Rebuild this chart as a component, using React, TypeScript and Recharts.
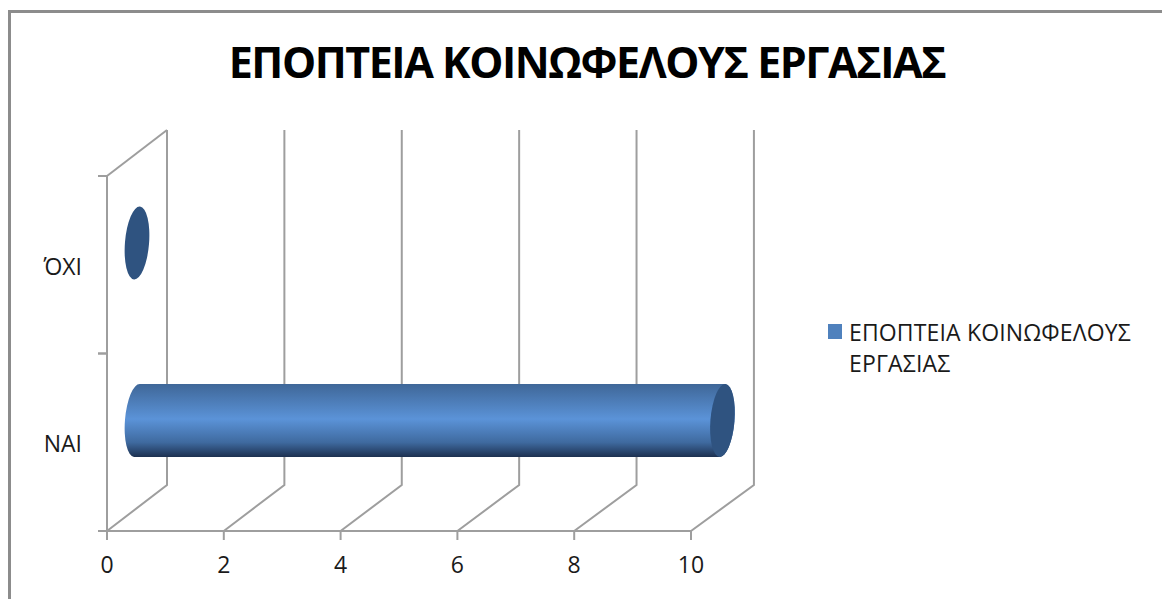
import { BarChart, Bar, XAxis, YAxis, CartesianGrid, Legend } from "recharts";

const categories = ["ΌΧΙ", "ΝΑΙ"];
const seriesValues = [0, 10];
const xTicks = [0, 2, 4, 6, 8, 10];
const seriesName = "ΕΠΟΠΤΕΙΑ ΚΟΙΝΩΦΕΛΟΥΣ ΕΡΓΑΣΙΑΣ";

const data = categories.map((name, i) => ({ name, value: seriesValues[i] }));

const WIDTH = 1162;
const HEIGHT = 599;
const FONT = "'Open Sans', sans-serif";
const AXIS_COLOR = "#9e9e9e";

// fake 3d: the back wall sits up and to the right of the front axes
const DEPTH_X = 60;
const DEPTH_Y = 46;
const PLOT_LEFT = 107;
const PLOT_TOP = 176;
const PLOT_BOTTOM = 531;
const HALF_BAND = (PLOT_BOTTOM - PLOT_TOP) / categories.length / 2;
// the back wall comes out a little wider than the front axis
const SPREAD = 0.005;

function WallLine(props: any) {
  const { x1, y1, y2, index } = props;
  const bx = x1 + DEPTH_X + (x1 - PLOT_LEFT) * SPREAD;
  return (
    <g fill="none" stroke={AXIS_COLOR} strokeWidth={2}>
      <path d={`M${x1},${y2} L${bx},${y2 - DEPTH_Y} L${bx},${y1 - DEPTH_Y}`} />
      {index === 0 && <path d={`M${x1},${y1} L${bx},${y1 - DEPTH_Y}`} />}
    </g>
  );
}

function CategoryTick(props: any) {
  const { x, y, payload } = props;
  return (
    <g>
      <line x1={x - 1} x2={x + 8} y1={y - HALF_BAND} y2={y - HALF_BAND} stroke={AXIS_COLOR} strokeWidth={2} />
      <line x1={x - 1} x2={x + 8} y1={y + HALF_BAND} y2={y + HALF_BAND} stroke={AXIS_COLOR} strokeWidth={2} />
      <text x={x - 17} y={y + 10} textAnchor="end" fontFamily={FONT} fontSize={23} fill="#1a1a1a">
        {payload.value}
      </text>
    </g>
  );
}

function Cylinder(props: any) {
  const { x, y, width, height } = props;
  // the bar floats halfway into the depth of the plot
  const x0 = x + DEPTH_X / 2;
  const x1 = x + width + DEPTH_X / 2 + width * SPREAD / 2;
  const top = y - 21.5;
  const bottom = top + height;
  const ry = height / 2;
  const rx = 12;
  const lean = 3;
  const arc = `A${rx},${ry} 4.7 0 1`;
  const body =
    `M${x0 + lean},${top} L${x1 + lean},${top} ${arc} ${x1 - lean},${bottom} ` +
    `L${x0 - lean},${bottom} ${arc} ${x0 + lean},${top} Z`;
  const cap = `M${x1 + lean},${top} ${arc} ${x1 - lean},${bottom} ${arc} ${x1 + lean},${top} Z`;
  return (
    <g>
      {width > 0 && <path d={body} fill="url(#cylinderFill)" />}
      <path d={cap} fill="#2f5380" />
    </g>
  );
}

function SeriesLegend() {
  return (
    <div
      style={{
        position: "relative",
        width: 320,
        fontFamily: FONT,
        fontSize: 23,
        letterSpacing: 0.15,
        lineHeight: "31px",
        color: "#1a1a1a",
      }}
    >
      <span style={{ position: "absolute", left: 0, top: 7, width: 14, height: 15, background: "#4f81bd" }} />
      <div style={{ marginLeft: 21, width: 295 }}>{seriesName}</div>
    </div>
  );
}

export default function App() {
  return (
    <div
      style={{
        position: "absolute",
        left: 0,
        top: 0,
        width: WIDTH,
        height: HEIGHT,
        overflow: "hidden",
        background: "#fff",
      }}
    >
      <div
        style={{
          position: "absolute",
          left: 8,
          top: 10,
          width: WIDTH,
          height: HEIGHT,
          borderLeft: "3px solid #8c8c8c",
          borderTop: "3px solid #8c8c8c",
        }}
      />
      <div style={{ position: "absolute", left: 0, top: 0 }}>
        <BarChart
          width={WIDTH}
          height={HEIGHT}
          data={data}
          layout="vertical"
          margin={{ top: PLOT_TOP, right: 151, bottom: 0, left: 0 }}
        >
          <defs>
            <linearGradient id="cylinderFill" x1="0" y1="0" x2="0" y2="1">
              <stop offset="0%" stopColor="#3f6798" />
              <stop offset="48%" stopColor="#5b93d8" />
              <stop offset="80%" stopColor="#3f6a9f" />
              <stop offset="100%" stopColor="#1c3050" />
            </linearGradient>
          </defs>
          <text
            x={587}
            y={78}
            textAnchor="middle"
            fontFamily={FONT}
            fontWeight={700}
            fontSize={43}
            letterSpacing={-1.45}
            fill="#000"
          >
            {seriesName}
          </text>
          <CartesianGrid horizontal={false} vertical={WallLine} />
          <XAxis
            type="number"
            domain={[0, 10]}
            ticks={xTicks}
            interval={0}
            height={68}
            tickSize={9}
            tickMargin={17}
            axisLine={{ stroke: AXIS_COLOR, strokeWidth: 2 }}
            tickLine={{ stroke: AXIS_COLOR, strokeWidth: 2 }}
            tick={{ fontFamily: FONT, fontSize: 23, fill: "#1a1a1a" }}
          />
          <YAxis
            type="category"
            dataKey="name"
            width={107}
            axisLine={{ stroke: AXIS_COLOR, strokeWidth: 2 }}
            tickLine={false}
            tick={<CategoryTick />}
          />
          <Legend
            layout="vertical"
            align="right"
            verticalAlign="top"
            content={<SeriesLegend />}
            wrapperStyle={{ left: 828, top: 317, right: "auto", width: 320 }}
          />
          <Bar dataKey="value" name={seriesName} barSize={73} shape={<Cylinder />} isAnimationActive={false} />
        </BarChart>
      </div>
    </div>
  );
}
